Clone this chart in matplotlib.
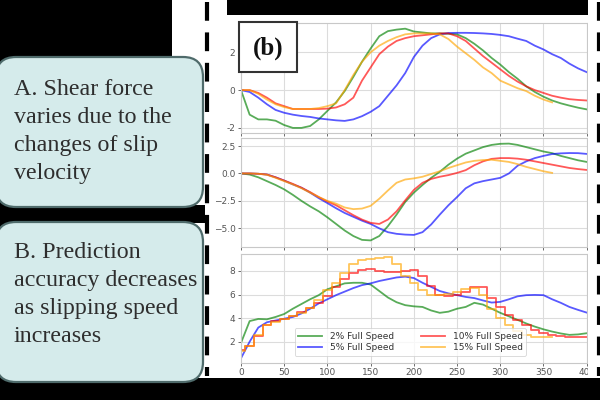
import matplotlib
matplotlib.use("Agg")
import matplotlib.pyplot as plt
from matplotlib.patches import Rectangle, FancyBboxPatch

# ---------------- data ----------------
t_steps = list(range(0, 410, 10))          # 0..400
t_short = list(range(0, 370, 10))          # 0..360 (15% series is shorter)

series_labels = ["2% Full Speed", "5% Full Speed", "10% Full Speed", "15% Full Speed"]

# panel 1
p1_green = [0, -1.3, -1.55, -1.55, -1.62, -1.85, -2.0, -2.0, -1.9, -1.55, -1.1, -0.65, -0.05,
            0.7, 1.5, 2.2, 2.85, 3.12, 3.2, 3.25, 3.1, 3.05, 3.0, 3.0, 2.98, 2.95, 2.75, 2.45,
            2.1, 1.7, 1.35, 0.95, 0.6, 0.2, -0.1, -0.35, -0.55, -0.7, -0.82, -0.93, -1.02]
p1_blue = [0, -0.1, -0.4, -0.75, -1.05, -1.2, -1.3, -1.37, -1.42, -1.5, -1.55, -1.6, -1.63,
           -1.55, -1.38, -1.15, -0.85, -0.3, 0.25, 0.9, 1.75, 2.35, 2.75, 2.95, 3.02, 3.03,
           3.03, 3.02, 3.0, 2.97, 2.92, 2.85, 2.72, 2.6, 2.35, 2.15, 1.9, 1.7, 1.4, 1.15, 0.95]
p1_red = [0, 0, -0.15, -0.4, -0.7, -0.85, -1.0, -1.0, -1.0, -1.0, -0.98, -0.92, -0.75, -0.4,
          0.5, 1.2, 1.9, 2.3, 2.6, 2.75, 2.85, 2.9, 2.95, 3.0, 3.0, 2.85, 2.6, 2.2, 1.8, 1.45,
          1.1, 0.75, 0.45, 0.2, 0.0, -0.15, -0.3, -0.4, -0.48, -0.52, -0.55]
p1_orange = [0, 0, -0.2, -0.5, -0.75, -0.9, -1.0, -1.0, -1.0, -0.95, -0.85, -0.7, 0.0, 0.8,
             1.5, 2.0, 2.35, 2.6, 2.8, 2.95, 3.0, 3.0, 3.0, 2.95, 2.7, 2.3, 1.95, 1.6, 1.2,
             0.9, 0.5, 0.3, 0.1, -0.05, -0.3, -0.5, -0.65]

# panel 2
p2_green = [0, -0.1, -0.35, -0.7, -1.05, -1.45, -1.95, -2.5, -3.0, -3.45, -4.0, -4.6, -5.2,
            -5.7, -6.05, -6.1, -5.7, -4.8, -3.75, -2.6, -1.75, -1.05, -0.4, 0.15, 0.8, 1.35,
            1.8, 2.1, 2.4, 2.6, 2.7, 2.72, 2.6, 2.4, 2.2, 2.0, 1.85, 1.6, 1.4, 1.2, 1.05]
p2_blue = [0, 0, -0.03, -0.1, -0.35, -0.65, -1.0, -1.3, -1.75, -2.25, -2.7, -3.17, -3.6,
           -3.95, -4.3, -4.6, -5.0, -5.35, -5.5, -5.57, -5.6, -5.35, -4.65, -3.75, -2.9,
           -2.15, -1.35, -0.9, -0.7, -0.55, -0.4, 0.0, 0.7, 1.1, 1.4, 1.6, 1.77, 1.83, 1.86,
           1.85, 1.78]
p2_red = [0, 0, -0.03, -0.1, -0.35, -0.65, -0.95, -1.3, -1.7, -2.15, -2.55, -2.9, -3.35,
          -3.8, -4.2, -4.5, -4.6, -4.2, -3.45, -2.45, -1.5, -0.85, -0.5, -0.3, -0.15, 0.05,
          0.3, 0.75, 1.1, 1.33, 1.4, 1.4, 1.35, 1.25, 1.1, 0.95, 0.8, 0.65, 0.5, 0.4, 0.32]
p2_orange = [0, 0, -0.03, -0.12, -0.4, -0.7, -1.0, -1.35, -1.75, -2.15, -2.5, -2.75, -3.1,
             -3.25, -3.2, -2.95, -2.3, -1.55, -0.85, -0.55, -0.45, -0.3, -0.05, 0.2, 0.5,
             0.75, 1.0, 1.15, 1.22, 1.25, 1.15, 1.05, 0.85, 0.6, 0.4, 0.2, 0.05]

# panel 3
p3_green = [1.9, 3.75, 3.93, 3.9, 4.1, 4.35, 4.8, 5.2, 5.6, 5.95, 6.45, 6.7, 6.95, 7.0, 7.0,
            6.85, 6.3, 5.75, 5.35, 5.1, 5.0, 4.95, 4.65, 4.45, 4.55, 4.8, 4.95, 5.3, 5.15,
            4.8, 4.45, 4.15, 3.85, 3.55, 3.28, 3.05, 2.86, 2.7, 2.58, 2.62, 2.72]
p3_blue = [0.6, 2.0, 3.2, 3.65, 3.8, 3.95, 4.1, 4.4, 4.8, 5.25, 5.6, 5.95, 6.25, 6.55, 6.8,
           6.95, 7.15, 7.3, 7.45, 7.52, 7.4, 7.0, 6.65, 6.3, 6.1, 5.95, 5.8, 5.7, 5.5, 5.32,
           5.38, 5.6, 5.85, 5.95, 5.97, 5.95, 5.6, 5.3, 4.95, 4.7, 4.47]
p3_red = [1.3, 1.6, 2.5, 3.4, 3.75, 3.95, 4.2, 4.5, 4.85, 5.25, 5.9, 6.6, 7.3, 7.85, 8.05,
          8.15, 8.0, 7.95, 7.95, 8.0, 8.1, 7.55, 6.7, 6.0, 5.85, 5.95, 6.25, 6.6, 6.6, 5.7,
          4.95, 4.3, 3.8, 3.4, 3.0, 2.75, 2.58, 2.5, 2.44, 2.44, 2.44]
p3_orange = [1.2, 1.6, 2.6, 3.4, 3.7, 3.9, 4.15, 4.45, 4.85, 5.5, 6.4, 6.95, 7.8, 8.6, 8.95,
             9.0, 9.1, 9.15, 8.6, 7.55, 7.0, 6.4, 5.97, 6.0, 6.05, 6.2, 6.45, 6.55, 6.0, 4.8,
             4.0, 3.45, 2.9, 2.6, 2.4, 2.38, 2.38]

x_ticks = [0, 50, 100, 150, 200, 250, 300, 350, 400]
p1_yticks = [-2, 0, 2]
p2_yticks = [-5.0, -2.5, 0.0, 2.5]
p3_yticks = [2, 4, 6, 8]

box_a_lines = ["A. Shear force", "varies due to the", "changes of slip", "velocity"]
box_b_lines = ["B. Prediction", "accuracy decreases", "as slipping speed", "increases"]
panel_tag = "(b)"

# ---------------- figure ----------------
W, H = 600, 400
fig = plt.figure(figsize=(6, 4), dpi=100, facecolor="black")

def px_axes(z):
    a = fig.add_axes([0, 0, 1, 1], zorder=z)
    a.set_xlim(0, W)
    a.set_ylim(H, 0)
    a.axis("off")
    a.patch.set_alpha(0)
    return a

bg = px_axes(0)
bg.add_patch(Rectangle((172, 0), 428, 378, fc="white", ec="none"))
bg.add_patch(Rectangle((227, 0), 361, 15, fc="black", ec="none"))
bg.add_patch(Rectangle((160, 205), 45, 18, fc="black", ec="none"))
bg.plot([207, 207], [2, 376], color="black", lw=3, linestyle=(0, (4.5, 2.8)))

for (y0, y1), lines, bases in [((57, 207), box_a_lines, [95, 123, 151, 179]),
                               ((222, 382), box_b_lines, [258, 286, 314, 342])]:
    bg.add_patch(FancyBboxPatch((-4, y0), 207, y1 - y0,
                                boxstyle="round,pad=0,rounding_size=20",
                                fc="#d5ebeb", ec="#4f6b6b", lw=1.6))
    for ln, b in zip(lines, bases):
        bg.text(14, b, ln, fontsize=17.3, family="Liberation Serif",
                color="#2e2e2e", va="baseline", ha="left")

colors = ["g", "b", "r", "orange"]
alpha = 0.65

def style(ax, yticks, ylim):
    ax.set_xlim(0, 400)
    ax.set_ylim(*ylim)
    ax.set_xticks(x_ticks)
    ax.set_yticks(yticks)
    ax.grid(True, color="#dcdcdc", lw=0.8)
    ax.set_axisbelow(True)
    for s in ax.spines.values():
        s.set_color("#c8c8c8")
        s.set_linewidth(0.8)
    ax.tick_params(labelsize=6.5, colors="#555555", length=2.5, width=0.6, pad=1.5)

axl = 241 / W
axw = (586.7 - 241) / W
ax1 = fig.add_axes([axl, 1 - 133 / H, axw, 110 / H], zorder=1)
ax2 = fig.add_axes([axl, 1 - 247 / H, axw, 109 / H], zorder=1)
ax3 = fig.add_axes([axl, 1 - 362.7 / H, axw, 108.7 / H], zorder=1)

panels = [
    (ax1, [p1_green, p1_blue, p1_red, p1_orange], p1_yticks, (-2.27, 3.55), False),
    (ax2, [p2_green, p2_blue, p2_red, p2_orange], p2_yticks, (-6.7, 3.23), False),
    (ax3, [p3_green, p3_blue, p3_red, p3_orange], p3_yticks, (0.22, 9.44), True),
]
for ax, data, yt, yl, stepped in panels:
    for i, (vals, c, lab) in enumerate(zip(data, colors, series_labels)):
        xs = t_steps if len(vals) == len(t_steps) else t_short
        ds = "steps-mid" if (stepped and i >= 2) else "default"
        ax.plot(xs, vals, color=c, alpha=alpha, lw=1.3, label=lab, drawstyle=ds)
    style(ax, yt, yl)

ax1.set_yticklabels([str(v) for v in p1_yticks])
ax2.set_yticklabels([f"{v:.1f}".replace("-", "\u2212") for v in p2_yticks])
ax1.tick_params(labelbottom=False)
ax2.tick_params(labelbottom=False)

leg = ax3.legend(ncol=2, loc="center", bbox_to_anchor=(0.49, 0.19), fontsize=6.5,
                 frameon=True, framealpha=0.8, edgecolor="#cccccc", handlelength=2.6,
                 columnspacing=3.0, borderpad=0.4, labelspacing=0.3, handletextpad=0.9)
for tx in leg.get_texts():
    tx.set_color("#333333")
leg.get_frame().set_linewidth(0.6)

fg = px_axes(5)
fg.add_patch(Rectangle((588, 0), 12, 378, fc="white", ec="none"))
fg.plot([598.5, 598.5], [2, 376], color="black", lw=3, linestyle=(0, (4.5, 2.8)))
fg.add_patch(Rectangle((239, 22), 58, 50, fc="white", ec="#333333", lw=1.5))
fg.text(268, 48, panel_tag, fontsize=18, family="Liberation Serif", weight="bold",
        color="#111111", ha="center", va="center")

fig.savefig("out.png", dpi=100, facecolor="black")
